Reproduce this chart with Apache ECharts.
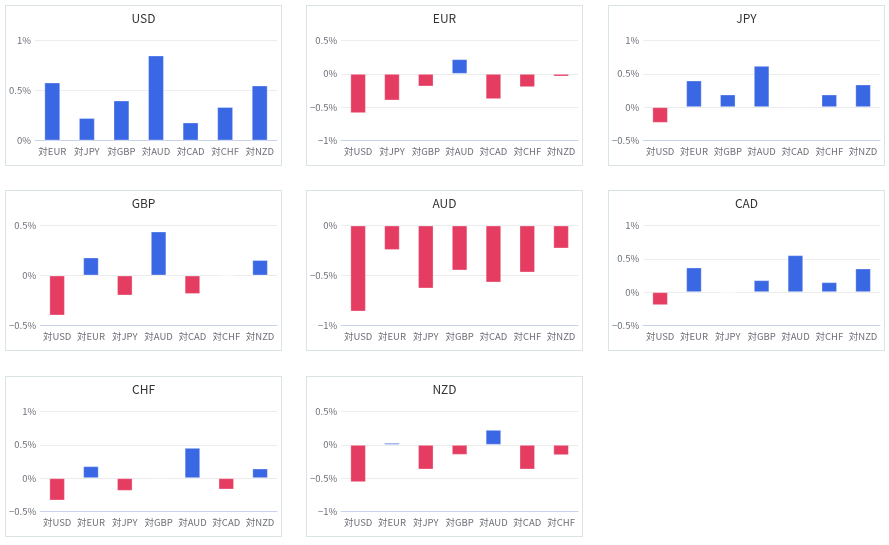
<!DOCTYPE html>
<html>
<head>
<meta charset="utf-8">
<script src="https://cdn.jsdelivr.net/npm/echarts@6/dist/echarts.min.js"></script>
<style>
  html, body { margin: 0; padding: 0; background: #ffffff; }
  body { width: 889px; height: 545px; position: relative; overflow: hidden; }
  .panel { position: absolute; width: 277px; height: 161px; box-sizing: border-box; border: 1px solid #dbe4e4; background: #fff; }
  .chart { width: 275px; height: 159px; }
</style>
</head>
<body>
<script>
const currencies = ['USD', 'EUR', 'JPY', 'GBP', 'AUD', 'CAD', 'CHF', 'NZD'];

const usdValues = [0.58, 0.225, 0.40, 0.85, 0.18, 0.335, 0.55];
const eurValues = [-0.59, -0.40, -0.19, 0.22, -0.38, -0.20, -0.04];
const jpyValues = [-0.235, 0.40, 0.19, 0.62, 0.005, 0.19, 0.34];
const gbpValues = [-0.40, 0.18, -0.20, 0.44, -0.185, 0, 0.155];
const audValues = [-0.86, -0.245, -0.63, -0.45, -0.57, -0.47, -0.23];
const cadValues = [-0.195, 0.37, -0.008, 0.18, 0.555, 0.15, 0.355];
const chfValues = [-0.335, 0.18, -0.19, 0.005, 0.455, -0.17, 0.145];
const nzdValues = [-0.56, 0.03, -0.37, -0.15, 0.225, -0.37, -0.155];

const yMins = [0, -1, -0.5, -0.5, -1, -0.5, -0.5, -1];
const yMaxs = [1, 0.5, 1, 0.5, 0, 1, 1, 0.5];
const yStep = 0.5;

const allValues = [usdValues, eurValues, jpyValues, gbpValues, audValues, cadValues, chfValues, nzdValues];

const BLUE = '#3a67e3';
const RED = '#e53d62';
const FONT = '"Noto Sans CJK JP", "Noto Sans", sans-serif';

function fmt(v) {
  const s = (Math.round(Math.abs(v) * 100) / 100).toString();
  return (v < 0 ? '\u2212' : '') + s + '%';
}

currencies.forEach((cur, i) => {
  const col = i % 3, row = Math.floor(i / 3);
  const panel = document.createElement('div');
  panel.className = 'panel';
  panel.style.left = (5 + col * 301.3) + 'px';
  panel.style.top = [5, 190, 375.5][row] + 'px';
  const el = document.createElement('div');
  el.className = 'chart';
  panel.appendChild(el);
  document.body.appendChild(panel);

  const cats = currencies.filter(c => c !== cur).map(c => '対' + c);
  const vals = allValues[i];
  const chart = echarts.init(el, null, { renderer: 'canvas' });
  chart.setOption({
    animation: false,
    textStyle: { fontFamily: FONT },
    title: {
      text: cur, left: 'center', top: 1,
      textStyle: { fontSize: 12, fontWeight: 'normal', color: '#333', fontFamily: FONT }
    },
    grid: { left: yMins[i] < 0 ? 34 : 29, right: 4, top: 34.5, bottom: 24.5 },
    xAxis: {
      type: 'category', data: cats,
      axisTick: { show: false },
      axisLine: { onZero: false, lineStyle: { color: '#c9d3ee' } },
      axisLabel: { fontSize: 9.5, color: '#6e7079', margin: 6, interval: 0, fontFamily: FONT }
    },
    yAxis: {
      type: 'value', min: yMins[i], max: yMaxs[i], interval: yStep,
      axisLabel: { fontSize: 9.5, color: '#6e7079', margin: 4, formatter: fmt, fontFamily: FONT },
      splitLine: { lineStyle: { color: '#ececec' } }
    },
    series: [{
      type: 'bar',
      barWidth: '46%',
      data: vals.map(v => ({
        value: v,
        itemStyle: { color: v >= 0 ? BLUE : RED }
      })),
      itemStyle: { borderWidth: 1, borderColor: 'rgba(255,255,255,0.3)' }
    }]
  });
});
</script>
</body>
</html>
